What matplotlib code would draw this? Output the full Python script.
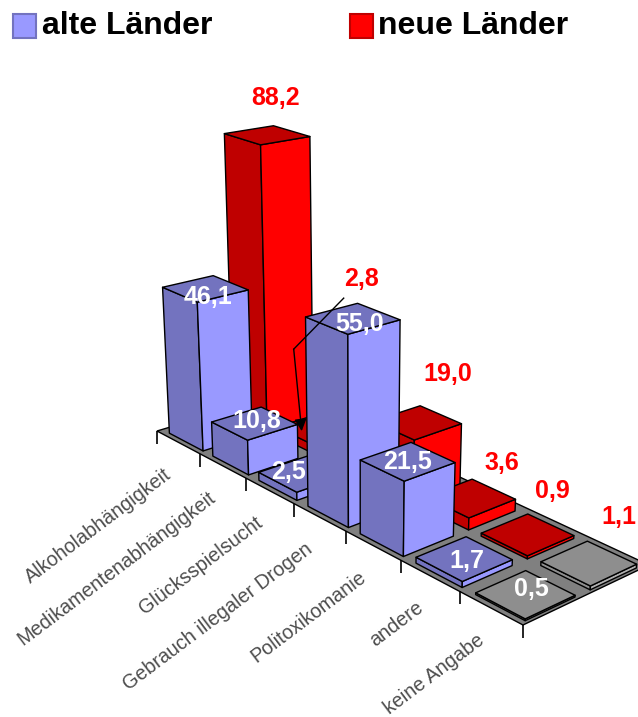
"""
3D bar chart of main diagnoses, alte vs. neue Laender, drawn with a small perspective camera.
"""

import numpy as np
import matplotlib
matplotlib.use("Agg")
import matplotlib.pyplot as plt
from matplotlib.patches import Polygon, Rectangle

plt.rcParams["font.family"] = ["Liberation Sans", "DejaVu Sans"]

# Data.
categories = ["Alkoholabhängigkeit", "Medikamentenabhängigkeit", "Glücksspielsucht",
              "Gebrauch illegaler Drogen", "Politoxikomanie", "andere", "keine Angabe"]
alte = [46.1, 10.8, 2.5, 55.0, 21.5, 1.7, 0.5]
neue = [88.2, 2.8, None, 19.0, 3.6, 0.9, 1.1]

# Colours: (side facing right, side facing left and top).
BLUE = ("#9999FF", "#7373BF")
RED = ("#FF0000", "#BF0000")
GREY = ("#B0B0B0", "#8E8E8E")
FLOOR = "#808080"

# Camera: floor corners in pixels, vanishing point of the vertical edges, height scale.
FLOOR_PIXELS = [(157, 431), (523, 625), (649, 565), (281, 394)]
FLOOR_GRID = [(0, 0), (7, 0), (7, 2), (0, 2)]
VERTICAL_VP = (360, 4500)
HEIGHT_SCALE = 3.05

# Label placement relative to the projected bar top.
RED_LABEL_OFFSET = [(9, -36), (44, -147), None, (31, -46), (32, -33), (26, -41), (31, -43)]
WHITE_LABEL_OFFSET = [(3, 10), (2, 0), (-14, 1), (7, 8), (1, 3), (4, 5), (7, -2)]
TICK_LABEL_OFFSET = (-9, 30)


def floor_homography():
    rows, rhs = [], []
    for (u, v), (x, y) in zip(FLOOR_GRID, FLOOR_PIXELS):
        rows.append([u, v, 1, 0, 0, 0, -u * x, -v * x])
        rows.append([0, 0, 0, u, v, 1, -u * y, -v * y])
        rhs += [x, y]
    h = np.linalg.solve(np.array(rows, float), np.array(rhs, float))
    return np.append(h, 1.0).reshape(3, 3)


H = floor_homography()
s = -HEIGHT_SCALE / (VERTICAL_VP[1] - FLOOR_PIXELS[0][1])
Z_COLUMN = s * np.array([VERTICAL_VP[0], VERTICAL_VP[1], 1.0])


def project(u, v, z=0.0):
    p = H @ np.array([u, v, 1.0]) + z * Z_COLUMN
    return p[0] / p[2], p[1] / p[2]


def draw_bar(ax, cat, row, value, colors):
    u0, u1 = cat + 0.17, cat + 0.95
    v0, v1 = row + 0.08, row + 0.84
    light, dark = colors
    faces = [
        ([(u0, v0, 0), (u1, v0, 0), (u1, v0, value), (u0, v0, value)], dark),
        ([(u1, v0, 0), (u1, v1, 0), (u1, v1, value), (u1, v0, value)], light),
        ([(u0, v0, value), (u1, v0, value), (u1, v1, value), (u0, v1, value)], dark),
    ]
    for corners, color in faces:
        ax.add_patch(Polygon([project(*c) for c in corners], closed=True, facecolor=color,
                             edgecolor="black", linewidth=1.0, joinstyle="round"))


fig = plt.figure(figsize=(6.38, 7.17), dpi=100)
ax = fig.add_axes([0, 0, 1, 1])
ax.set_xlim(0, 638)
ax.set_ylim(717, 0)
ax.axis("off")

# Floor and ticks.
ax.add_patch(Polygon([project(*c) for c in FLOOR_GRID], closed=True, facecolor=FLOOR,
                     edgecolor="black", linewidth=1.0))
for i in range(len(categories) + 1):
    x, y = project(i, 0)
    ax.plot([x, x], [y, y + 13], color="black", linewidth=1.2, solid_capstyle="butt")

# Back row first, then the front row, left to right.
for i, value in enumerate(neue):
    if value is not None:
        draw_bar(ax, i, 1, value, GREY if i == 6 else RED)
for i, value in enumerate(alte):
    draw_bar(ax, i, 0, value, GREY if i == 6 else BLUE)

# Leader line for the small bar hidden behind its neighbours.
x, y = project(1.5, 1.5, neue[1])
ax.plot([x + 26, x - 24], [y - 128, y - 77], color="black", linewidth=1.0)
ax.annotate("", xy=(x - 16, y + 5), xytext=(x - 24, y - 77),
            arrowprops=dict(arrowstyle="-|>", color="black", linewidth=1.0, mutation_scale=18,
                            shrinkA=0, shrinkB=0))

# Value labels.
for i, value in enumerate(alte):
    x, y = project(i + 0.5, 0.5, value)
    dx, dy = WHITE_LABEL_OFFSET[i]
    ax.text(x + dx, y + dy, ("%.1f" % value).replace(".", ","),
            color="white", fontsize=18, fontweight="bold", ha="center", va="center")
for i, value in enumerate(neue):
    if value is None:
        continue
    x, y = project(i + 0.5, 1.5, value)
    dx, dy = RED_LABEL_OFFSET[i]
    ax.text(x + dx, y + dy, ("%.1f" % value).replace(".", ","),
            color="#FF0000", fontsize=18, fontweight="bold", ha="center", va="center")

# Category labels.
for i, name in enumerate(categories):
    x, y = project(i + 0.5, 0)
    ax.text(x + TICK_LABEL_OFFSET[0], y + TICK_LABEL_OFFSET[1], name, color="#4D4D4D",
            fontsize=14.2, rotation=37, rotation_mode="anchor", ha="right", va="center")

# Legend.
ax.add_patch(Rectangle((13, 14), 23, 24, facecolor=BLUE[0], edgecolor=BLUE[1], linewidth=1.5))
ax.add_patch(Rectangle((350, 14), 23, 24, facecolor=RED[0], edgecolor=RED[1], linewidth=1.5))
ax.text(42, 26, "alte Länder", color="black", fontsize=23, fontweight="bold", va="center")
ax.text(378, 26, "neue Länder", color="black", fontsize=23, fontweight="bold", va="center")

fig.savefig("out.png", dpi=100)
